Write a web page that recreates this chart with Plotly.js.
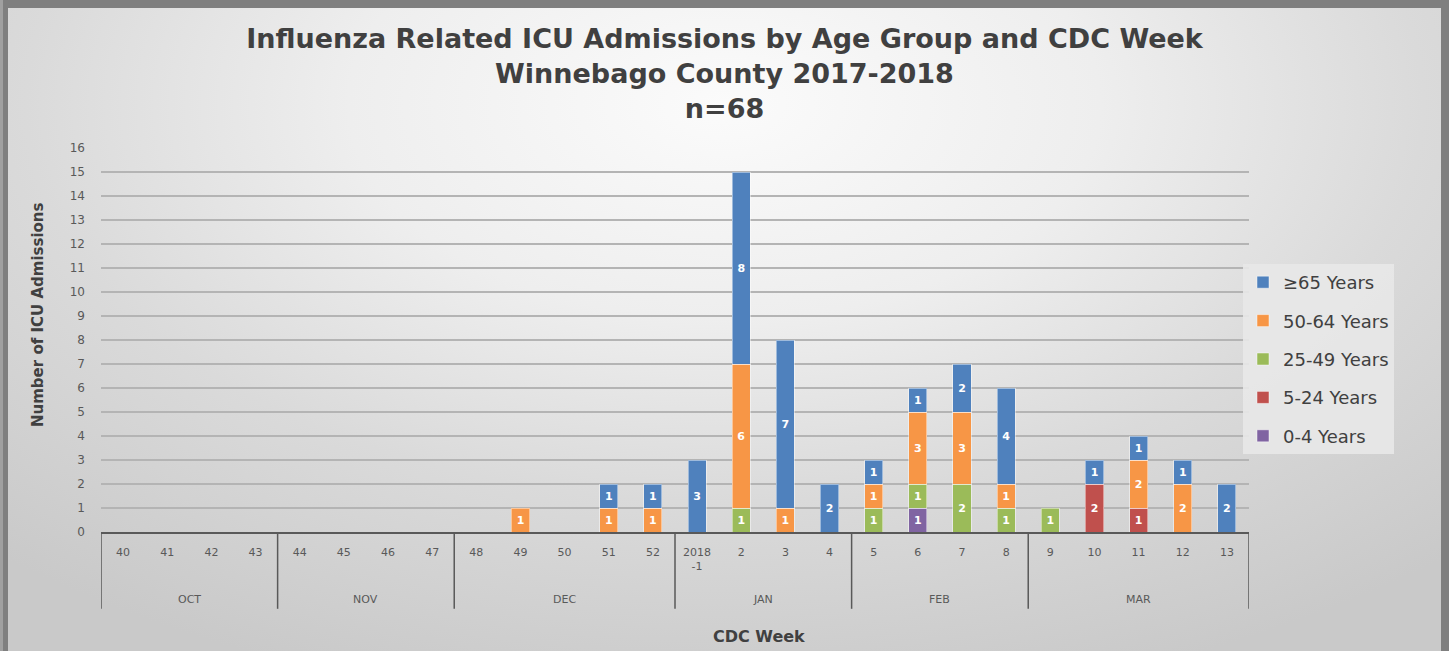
<!DOCTYPE html>
<html>
<head>
<meta charset="utf-8">
<script src="https://cdn.plot.ly/plotly-3.0.1.min.js"></script>
<style>
  html, body { margin: 0; padding: 0; width: 1449px; height: 651px; overflow: hidden; background: #8c8c8c; }
  #frame {
    position: absolute; left: 0; top: 0; width: 1449px; height: 651px;
    background: linear-gradient(to right, #a0a0a0 0px, #a0a0a0 3px, #7f7f7f 3px, #7f7f7f 8px, transparent 8px),
                #7f7f7f;
  }
  #inner {
    position: absolute; left: 8px; top: 8px; width: 1433px; height: 643px;
    background: radial-gradient(ellipse 75% 95% at 50% 15%, #fbfbfb 0%, #eeeeee 35%, #dadada 65%, #c9c9c9 100%);
  }
  #chart { position: absolute; left: 0; top: 0; width: 1449px; height: 651px; }
</style>
</head>
<body>
<div id="frame"><div id="inner"></div></div>
<div id="chart"></div>
<script>
// Month group for each CDC week
const months = ['OCT','OCT','OCT','OCT','NOV','NOV','NOV','NOV','DEC','DEC','DEC','DEC','DEC',
                'JAN','JAN','JAN','JAN','FEB','FEB','FEB','FEB','MAR','MAR','MAR','MAR','MAR'];
// CDC week labels
const weeks = ['40','41','42','43','44','45','46','47','48','49','50','51','52',
               '2018<br>-1','2','3','4','5','6','7','8','9','10','11','12','13'];

// Series values (ICU admissions by age group)
const age0_4   = [0,0,0,0,0,0,0,0,0,0,0,0,0, 0,0,0,0,0,1,0,0,0,0,0,0,0];
const age5_24  = [0,0,0,0,0,0,0,0,0,0,0,0,0, 0,0,0,0,0,0,0,0,0,2,1,0,0];
const age25_49 = [0,0,0,0,0,0,0,0,0,0,0,0,0, 0,1,0,0,1,1,2,1,1,0,0,0,0];
const age50_64 = [0,0,0,0,0,0,0,0,0,1,0,1,1, 0,6,1,0,1,3,3,1,0,0,2,2,0];
const age65    = [0,0,0,0,0,0,0,0,0,0,0,1,1, 3,8,7,2,1,1,2,4,0,1,1,1,2];

const seriesNames = ['0-4 Years','5-24 Years','25-49 Years','50-64 Years','≥65 Years'];
const seriesData  = [age0_4, age5_24, age25_49, age50_64, age65];
const seriesColors = ['#8064a2','#c0504d','#9bbb59','#f79646','#4f81bd'];

const traces = seriesData.map((vals, i) => ({
  type: 'bar',
  name: seriesNames[i],
  legendgroup: 'g' + i,
  legendrank: seriesData.length - i,
  x: weeks,
  y: vals.map(v => v === 0 ? null : v),
  marker: { color: seriesColors[i], line: { color: 'rgba(255,255,255,0.45)', width: 1 } },
  text: vals.map(v => v === 0 ? '' : String(v)),
  texttemplate: '%{text}',
  textposition: 'inside',
  insidetextanchor: 'middle',
  constraintext: 'none',
  textangle: 0,
  textfont: { color: '#ffffff', size: 11, family: 'DejaVu Sans', weight: 'bold' },
  hoverinfo: 'skip'
}));

// Month group boundaries and labels (derived from the months array)
const groups = [];
months.forEach((m, i) => {
  if (!groups.length || groups[groups.length - 1].name !== m) groups.push({ name: m, first: i, last: i });
  else groups[groups.length - 1].last = i;
});
const divColor = '#595959';
const DIV_BOTTOM = -0.2;
const shapes = [];
groups.forEach((g, k) => {
  shapes.push({ type: 'line', xref: 'x', yref: 'paper', x0: g.first - 0.5, x1: g.first - 0.5, y0: 0, y1: DIV_BOTTOM,
                line: { color: divColor, width: 1.5 } });
  if (k === groups.length - 1)
    shapes.push({ type: 'line', xref: 'x', yref: 'paper', x0: g.last + 0.5, x1: g.last + 0.5, y0: 0, y1: DIV_BOTTOM,
                  line: { color: divColor, width: 1.5 } });
});
const annotations = groups.map(g => ({
  xref: 'x', yref: 'paper', x: (g.first + g.last) / 2, y: -0.177, yanchor: 'middle', xanchor: 'center',
  text: g.name, showarrow: false, font: { family: 'DejaVu Sans', size: 11, color: '#595959' }
}));
annotations.push({
  xref: 'paper', yref: 'paper', x: (759 - 101) / 1148, y: (532 - 636) / 384, xanchor: 'center', yanchor: 'middle',
  text: 'CDC Week', showarrow: false, font: { family: 'DejaVu Sans', size: 16, color: '#404040', weight: 'bold' }
});
annotations.push({
  xref: 'paper', yref: 'paper', x: (38 - 101) / 1148, y: (532 - 315) / 384, xanchor: 'center', yanchor: 'middle',
  textangle: -90,
  text: 'Number of ICU Admissions', showarrow: false, font: { family: 'DejaVu Sans', size: 15, color: '#404040', weight: 'bold' }
});

const layout = {
  width: 1449, height: 651,
  paper_bgcolor: 'rgba(0,0,0,0)',
  plot_bgcolor: 'rgba(0,0,0,0)',
  margin: { l: 101, r: 200, t: 148, b: 119 },
  barmode: 'stack',
  bargap: 0.59,
  showlegend: true,
  title: {
    text: 'Influenza Related ICU Admissions by Age Group and CDC Week<br>Winnebago County 2017-2018<br>n=68',
    font: { family: 'DejaVu Sans', size: 27, color: '#404040', weight: 'bold' },
    x: 0.5, xanchor: 'center',
    y: 1 - 48 / 651, yref: 'container', yanchor: 'top'
  },
  xaxis: {
    type: 'category',
    range: [-0.5, weeks.length - 0.5],
    showgrid: false,
    showline: true, linecolor: '#595959', linewidth: 1.5,
    ticks: '', ticklabelstandoff: 9, tickangle: 0,
    tickfont: { family: 'DejaVu Sans', size: 11, color: '#595959' },
    fixedrange: true
  },
  yaxis: {
    range: [0, 16], dtick: 1, tick0: 0,
    showgrid: true, gridcolor: '#b4b4b4', gridwidth: 1.5,
    zeroline: false, showline: false,
    ticks: '', ticklabelstandoff: 15,
    tickfont: { family: 'DejaVu Sans', size: 12, color: '#595959' },
    fixedrange: true
  },
  legend: {
    x: (1243 - 101) / (1249 - 101), xanchor: 'left',
    y: (532 - 264) / 384, yanchor: 'top',
    traceorder: 'grouped',
    tracegroupgap: 12,
    bgcolor: 'rgba(232,232,232,0.9)',
    borderwidth: 0,
    font: { family: 'DejaVu Sans', size: 18, color: '#404040' }
  },
  shapes: shapes,
  annotations: annotations
};

Plotly.newPlot('chart', traces, layout, { displayModeBar: false, staticPlot: true });
</script>
</body>
</html>
